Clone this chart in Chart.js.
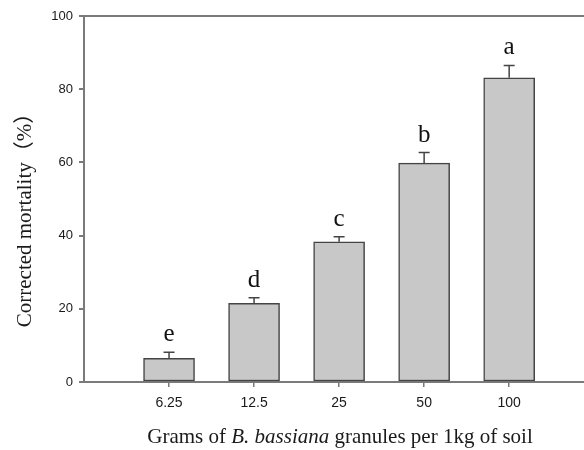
<!DOCTYPE html>
<html lang="en">
<head>
    <meta charset="UTF-8">
    <title>Corrected mortality</title>
    <script src="https://cdn.jsdelivr.net/npm/chart.js"></script>
    <style>
        html, body { margin: 0; padding: 0; background: #fff; }
        #wrap { width: 584px; height: 450px; }
    </style>
</head>
<body>
    <div id="wrap"><canvas id="chart" width="584" height="450"></canvas></div>
    <script>
        const doses = ['6.25', '12.5', '25', '50', '100'];
        const mortality = [6.5, 21.5, 38.3, 59.8, 83.1];
        const errors = [1.6, 1.5, 1.4, 2.9, 3.4];
        const letters = ['e', 'd', 'c', 'b', 'a'];
        const yTicks = [0, 20, 40, 60, 80, 100];

        const axisGray = '#7a7a7a';
        const textColor = '#1a1a1a';

        // error bars + significance letters
        const errorBars = {
            id: 'errorBars',
            afterDatasetsDraw(chart) {
                const ctx = chart.ctx;
                const x = chart.scales.x, y = chart.scales.y;
                ctx.save();
                ctx.strokeStyle = '#444';
                ctx.lineWidth = 1.5;
                mortality.forEach((v, i) => {
                    const px = x.getPixelForValue(i + 1);
                    const top = y.getPixelForValue(v + errors[i]);
                    ctx.beginPath();
                    ctx.moveTo(px, y.getPixelForValue(v));
                    ctx.lineTo(px, top);
                    ctx.moveTo(px - 5.5, top);
                    ctx.lineTo(px + 5.5, top);
                    ctx.stroke();
                    ctx.fillStyle = '#111';
                    ctx.font = '25px "Liberation Serif", serif';
                    ctx.textAlign = 'center';
                    ctx.textBaseline = 'alphabetic';
                    ctx.fillText(letters[i], px, top - 11);
                });
                ctx.restore();
            }
        };

        // axis titles (x title has an italic part)
        const titles = {
            id: 'titles',
            afterDraw(chart) {
                const ctx = chart.ctx;
                ctx.save();
                ctx.fillStyle = textColor;
                ctx.textBaseline = 'middle';
                const parts = [
                    ['Grams of ', '21px "Liberation Serif", serif'],
                    ['B. bassiana', 'italic 21px "Liberation Serif", serif'],
                    [' granules per 1kg of soil', '21px "Liberation Serif", serif']
                ];
                let total = 0;
                parts.forEach(p => { ctx.font = p[1]; total += ctx.measureText(p[0]).width; });
                let cx = 340 - total / 2;
                ctx.textAlign = 'left';
                parts.forEach(p => {
                    ctx.font = p[1];
                    ctx.fillText(p[0], cx, 437);
                    cx += ctx.measureText(p[0]).width;
                });
                ctx.translate(25, 215);
                ctx.rotate(-Math.PI / 2);
                ctx.textAlign = 'center';
                ctx.font = '21px "Liberation Serif", "Noto Sans CJK SC", serif';
                ctx.fillText('Corrected mortality（%）', 0, 0);
                ctx.restore();
            }
        };

        new Chart(document.getElementById('chart'), {
            type: 'bar',
            data: {
                datasets: [{
                    data: mortality.map((v, i) => ({ x: i + 1, y: v })),
                    backgroundColor: '#c8c8c8',
                    borderColor: '#444',
                    borderWidth: 1.5,
                    borderSkipped: false,
                    barThickness: 51
                }]
            },
            options: {
                responsive: false,
                animation: false,
                layout: { padding: { top: 16, right: 0, left: 0, bottom: 0 } },
                plugins: { legend: { display: false }, tooltip: { enabled: false } },
                scales: {
                    x: {
                        type: 'linear',
                        offset: false,
                        min: 0,
                        max: 5.88,
                        afterBuildTicks: axis => { axis.ticks = doses.map((d, i) => ({ value: i + 1 })); },
                        afterFit: s => { s.height = 68; },
                        ticks: {
                            callback: v => doses[v - 1],
                            color: textColor,
                            font: { family: '"Liberation Sans", Arial', size: 14 },
                            padding: 8,
                            maxRotation: 0
                        },
                        grid: { offset: false, drawOnChartArea: false, tickLength: 5, color: axisGray, lineWidth: 1.5 },
                        border: { color: axisGray, width: 2 }
                    },
                    y: {
                        min: 0,
                        max: 100,
                        afterBuildTicks: axis => { axis.ticks = yTicks.map(v => ({ value: v })); },
                        afterFit: s => { s.width = 84; },
                        ticks: {
                            color: textColor,
                            font: { family: '"Liberation Sans", Arial', size: 13 },
                            padding: 6
                        },
                        grid: {
                            tickLength: 5,
                            color: c => c.tick && c.tick.value === 100 ? axisGray : 'transparent',
                            tickColor: axisGray,
                            lineWidth: 2
                        },
                        border: { color: axisGray, width: 2 }
                    }
                }
            },
            plugins: [errorBars, titles]
        });
    </script>
</body>
</html>
